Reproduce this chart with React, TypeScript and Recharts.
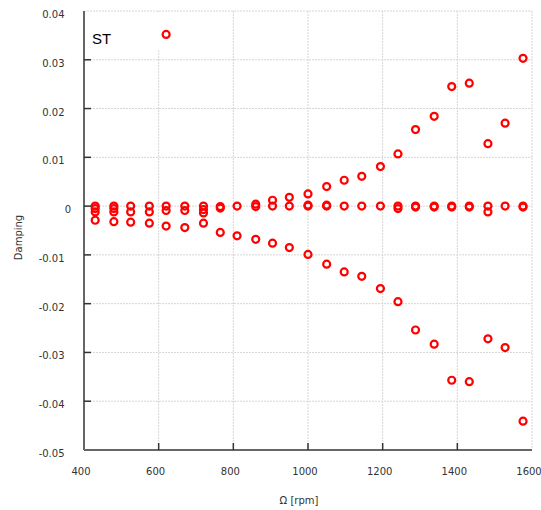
import React from 'react';
import {
  ScatterChart,
  Scatter,
  XAxis,
  YAxis,
  CartesianGrid,
  ReferenceArea,
} from 'recharts';

// Rotor speed (rpm) at which each set of modes was computed
const rpm = [430, 480, 525, 575, 620, 670, 720, 765, 810, 860, 905, 950, 1000, 1050, 1097, 1144, 1194, 1241, 1288, 1338, 1385, 1432, 1482, 1528, 1576];

// Damping values of the modes (null = no point)
const modeNearZero = [0, 0, 0, 0, 0, 0, 0, -0.0001, 0, -0.0001, 0, 0, 0, 0, 0, 0, 0, 0, 0, 0, 0, 0, 0, 0, 0];
const modeRising = [-0.0005, -0.0005, null, null, null, null, -0.0007, -0.0004, null, 0.0004, 0.0012, 0.0018, 0.0025, 0.004, 0.0053, 0.0061, 0.0081, 0.0107, 0.0157, 0.0184, 0.0245, 0.0252, 0.0128, 0.017, 0.0303];
const modeSlightNeg = [-0.0012, -0.0012, -0.0012, -0.0012, -0.0009, -0.0009, -0.0014, null, null, null, null, null, 0.0002, 0.0002, null, null, null, -0.0005, -0.0002, -0.0002, -0.0002, -0.0002, -0.0012, null, -0.0002];
const modeFalling = [-0.0029, -0.0032, -0.0033, -0.0035, -0.0041, -0.0044, -0.0035, -0.0054, -0.0061, -0.0068, -0.0076, -0.0085, -0.0099, -0.0119, -0.0135, -0.0144, -0.0169, -0.0196, -0.0254, -0.0283, -0.0357, -0.036, -0.0272, -0.029, -0.0441];
const outlierRpm = [620];
const outlierDamping = [0.0352];

const xTicks = [400, 600, 800, 1000, 1200, 1400, 1600];
const yTicks = [-0.05, -0.04, -0.03, -0.02, -0.01, 0, 0.01, 0.02, 0.03, 0.04];

const toPoints = (xs: number[], ys: (number | null)[]) =>
  xs
    .map((x, i) => ({ x, y: ys[i] }))
    .filter((p) => p.y !== null && p.y !== undefined) as { x: number; y: number }[];

const series = [
  toPoints(rpm, modeNearZero),
  toPoints(rpm, modeRising),
  toPoints(rpm, modeSlightNeg),
  toPoints(rpm, modeFalling),
  toPoints(outlierRpm, outlierDamping),
];

const FONT = '"DejaVu Sans", Verdana, sans-serif';
const TICK_COLOR = '#333';
const FRAME = '#666';

const Ring = (props: any) => {
  const { cx, cy } = props;
  if (cx == null || cy == null) return null;
  return <circle cx={cx} cy={cy} r={3.5} fill="none" stroke="#ff0000" strokeWidth={2.2} />;
};

const LeftTick = (props: any) => {
  const { x, y, payload } = props;
  const v = payload.value;
  const isEnd = v === yTicks[0] || v === yTicks[yTicks.length - 1];
  return (
    <g>
      {!isEnd && <line x1={x} x2={x + 7} y1={y} y2={y} stroke={TICK_COLOR} strokeWidth={1.5} />}
      <text
        x={v === 0 ? x - 13 : x - 19.5}
        y={y + 7}
        textAnchor="end"
        fontFamily={FONT}
        fontSize={10}
        fill={TICK_COLOR}
      >
        {String(v)}
      </text>
    </g>
  );
};

const RightTick = (props: any) => {
  const { x, y, payload } = props;
  const v = payload.value;
  const isEnd = v === yTicks[0] || v === yTicks[yTicks.length - 1];
  if (isEnd) return null;
  return <line x1={x} x2={x - 7} y1={y} y2={y} stroke={TICK_COLOR} strokeWidth={1.5} />;
};

const BottomTick = (props: any) => {
  const { x, y, payload } = props;
  const v = payload.value;
  const isEnd = v === xTicks[0] || v === xTicks[xTicks.length - 1];
  return (
    <g>
      {!isEnd && <line x1={x} x2={x} y1={y} y2={y - 7} stroke={TICK_COLOR} strokeWidth={1.5} />}
      <text x={x - 3} y={y + 25.3} textAnchor="middle" fontFamily={FONT} fontSize={10} fill={TICK_COLOR}>
        {String(v)}
      </text>
    </g>
  );
};

const TopTick = (props: any) => {
  const { x, y, payload } = props;
  const v = payload.value;
  const isEnd = v === xTicks[0] || v === xTicks[xTicks.length - 1];
  if (isEnd) return null;
  return <line x1={x} x2={x} y1={y} y2={y + 7} stroke={TICK_COLOR} strokeWidth={1.5} />;
};

export default function App() {
  return (
    <div style={{ position: 'absolute', left: 0, top: 0, width: 541, height: 510, background: '#fff' }}>
      <ScatterChart width={541} height={510} margin={{ top: 11, right: 9, left: 0, bottom: 0 }}>
        <CartesianGrid stroke="#d6d6d6" strokeDasharray="2 1" />
        <XAxis
          type="number"
          dataKey="x"
          domain={[400, 1600]}
          ticks={xTicks}
          interval={0}
          height={60}
          tickSize={0}
          tickMargin={0}
          tickLine={false}
          tick={<BottomTick />}
          axisLine={{ stroke: FRAME, strokeWidth: 2 }}
          allowDataOverflow
          label={{
            content: (p: any) => {
              const vb = p.viewBox;
              return (
                <text
                  x={vb.x + vb.width / 2 - 9}
                  y={vb.y + 53.6}
                  textAnchor="middle"
                  fontFamily={FONT}
                  fontSize={10}
                  fill={TICK_COLOR}
                >
                  Ω [rpm]
                </text>
              );
            },
          }}
        />
        <XAxis
          xAxisId="top"
          orientation="top"
          type="number"
          dataKey="x"
          domain={[400, 1600]}
          ticks={xTicks}
          interval={0}
          height={0}
          tickSize={0}
          tickMargin={0}
          tickLine={false}
          tick={<TopTick />}
          axisLine={{ stroke: FRAME, strokeWidth: 2 }}
          allowDataOverflow
        />
        <YAxis
          type="number"
          dataKey="y"
          domain={[-0.05, 0.04]}
          ticks={yTicks}
          interval={0}
          width={84}
          tickSize={0}
          tickMargin={0}
          tickLine={false}
          tick={<LeftTick />}
          axisLine={{ stroke: FRAME, strokeWidth: 2 }}
          allowDataOverflow
          label={{
            content: (p: any) => {
              const vb = p.viewBox;
              const cx = vb.x + 18;
              const cy = vb.y + vb.height / 2 + 7;
              return (
                <text
                  x={cx}
                  y={cy}
                  transform={`rotate(-90 ${cx} ${cy})`}
                  textAnchor="middle"
                  dominantBaseline="central"
                  fontFamily={FONT}
                  fontSize={10}
                  fill={TICK_COLOR}
                >
                  Damping
                </text>
              );
            },
          }}
        />
        <YAxis
          yAxisId="right"
          orientation="right"
          type="number"
          dataKey="y"
          domain={[-0.05, 0.04]}
          ticks={yTicks}
          interval={0}
          width={0}
          tickSize={0}
          tickMargin={0}
          tickLine={false}
          tick={<RightTick />}
          axisLine={{ stroke: FRAME, strokeWidth: 2 }}
          allowDataOverflow
        />
        <ReferenceArea
          x1={400}
          x2={605}
          y1={0.0322}
          y2={0.0398}
          fill="#ffffff"
          fillOpacity={1}
          stroke="none"
          ifOverflow="hidden"
          label={{
            content: (p: any) => {
              const vb = p.viewBox;
              return (
                <text x={vb.x + 8} y={vb.y + 32} fontFamily='"Liberation Sans", Arial, sans-serif' fontSize={15} fill="#000">
                  ST
                </text>
              );
            },
          }}
        />
        {series.map((data, i) => (
          <Scatter key={i} data={data} shape={<Ring />} isAnimationActive={false} />
        ))}
      </ScatterChart>
    </div>
  );
}
